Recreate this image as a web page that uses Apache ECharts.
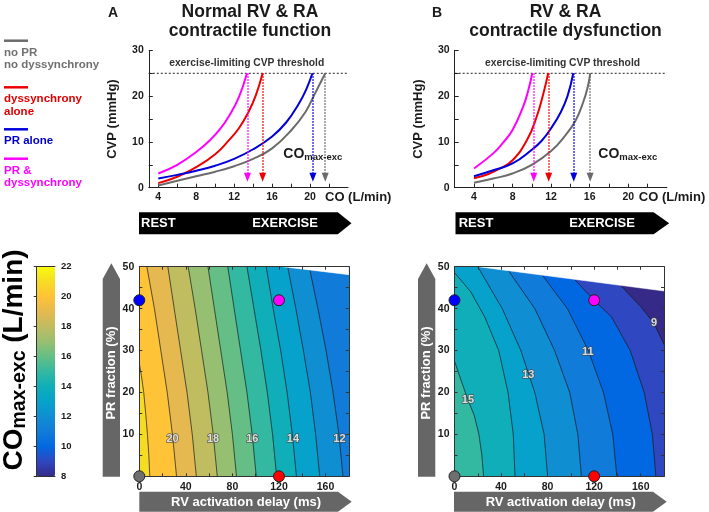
<!DOCTYPE html>
<html><head><meta charset="utf-8">
<script src="https://cdn.jsdelivr.net/npm/echarts@6/dist/echarts.min.js"></script>
<style>html,body{margin:0;padding:0;background:#fff}#c{width:709px;height:512px}</style>
</head><body><div id="c"></div>
<script>
// ================= DATA =================
// top panels: CO (L/min) vs CVP (mmHg)
const coLabelTicks = [4, 8, 12, 16, 20];
const coTicks = [4, 6, 8, 10, 12, 14, 16, 18, 20, 22];
const cvpLabelTicks = [0, 10, 20, 30];
const cvpTicks = [0, 5, 10, 15, 20, 25, 30];
const cvpThreshold = 25;

const aGray    = [[4,0.5],[6,1.5],[8,2.5],[10,3.5],[12,4.7],[14,6.3],[16,8.6],[18,12.5],[19.5,16.5],[20.5,20.5],[21.6,25]];
const aRed     = [[4,1],[6,2.4],[8,4.5],[10,7.3],[11.5,10.5],[12.5,13],[13.5,16.5],[14.3,20.3],[15,25]];
const aBlue    = [[4,2],[6,2.8],[8,3.7],[10,4.8],[12,6.3],[14,8.4],[16,11.2],[17.5,14.3],[18.8,18.3],[19.6,21.5],[20.25,25]];
const aMagenta = [[4,3.1],[6,5],[8,7.8],[9.5,10.5],[10.5,12.8],[11.5,15.8],[12.5,19.8],[13.35,25]];
const aCOmax   = {gray: 21.6, red: 15.0, blue: 20.3, magenta: 13.4};

const bGray    = [[4,1.1],[6,2],[8,3.1],[10,5],[12,8],[13.5,11.5],[14.5,14.5],[15.3,18.5],[15.8,22],[16.05,25]];
const bRed     = [[4,2.05],[5.5,3],[6.7,4.2],[8,6],[9.5,10.4],[10.5,15.5],[11.2,20.6],[11.7,25]];
const bBlue    = [[4,2.5],[6,3.8],[8,5.3],[10,8.3],[11,10.2],[12,13],[13,16.5],[13.7,20],[14.3,25]];
const bMagenta = [[4,4.2],[6,7.5],[7,9.8],[8,12.6],[9.1,17.7],[9.6,21],[10.05,25]];
const bCOmax   = {gray: 16.05, red: 11.75, blue: 14.35, magenta: 10.2};

// bottom panels: RV activation delay (ms) vs PR fraction (%), COmax-exc contours
const delayLabelTicks = [0, 40, 80, 120, 160];
const delayTicks = [0, 20, 40, 60, 80, 100, 120, 140, 160, 180];
const prLabelTicks = [10, 20, 30, 40, 50];
const prTicks = [0, 5, 10, 15, 20, 25, 30, 35, 40, 45, 50];
const cbarTicks = [8, 10, 12, 14, 16, 18, 20, 22];

const levelsA = [21, 20, 19, 18, 17, 16, 15, 14, 13, 12];
const contourA = [
  [[9,0],[8.2,5],[7,10],[5.5,15],[3.8,20],[1.8,24],[0,27]],
  [[32,0],[28.5,10],[24,20],[18.5,30],[13,40],[6.5,50]],
  [[49,0],[45.5,10],[41,20],[35.5,30],[30,40],[24.5,50]],
  [[67,0],[63.5,10],[59,20],[53.5,30],[48,40],[42,50]],
  [[83.5,0],[80,10],[75.5,20],[70,30],[64.5,40],[59,50]],
  [[100.5,0],[97,10],[92.5,20],[87,30],[81.5,40],[76,50]],
  [[118,0],[114.5,10],[110,20],[104.5,30],[98.5,40],[92.5,50]],
  [[135,0],[131.5,10],[127,20],[121.5,30],[115,40],[109,50]],
  [[155,0],[151.5,10],[147,20],[141,30],[134.5,40],[127.5,50]],
  [[175,0],[171.5,10],[166.5,20],[160.5,30],[153.5,40],[146,50]]
];
const contourLabelsA = [[28.6,8.8,'20'],[63.4,8.8,'18'],[97.1,8.8,'16'],[132,8.8,'14'],[172,8.8,'12']];
const nanEdgeA = [[123,50],[180,48.1]];

const levelsB = [15, 14, 13, 12, 11, 10, 9];
const contourB = [
  [[25,0],[23.5,5],[21,10],[17,14.5],[11.5,18.3],[5.5,23],[0,27.5]],
  [[52,0],[50.5,10],[46,20],[38,30],[26,38],[14,44],[0,48.6]],
  [[80,0],[77,10],[69,20],[57,30],[41,40],[20,50]],
  [[109,0],[106,10],[99,20],[86,30],[69,40],[44,50]],
  [[139.5,0],[136,10],[128,20],[115,30],[97,40],[70,50]],
  [[173,0],[170,10],[163,20],[151,30],[135,38],[120,42],[103,47],[94,50]],
  [[180,31.5],[171.4,36.5],[160,40.5],[148,44],[138,47],[130,50]]
];
const contourLabelsB = [[11.5,18.3,'15'],[63.4,24.2,'13'],[114.6,29.7,'11'],[171.4,36.5,'9']];
const nanEdgeB = [[20,50],[180,44.2]];

// scenario markers: no PR/no dyssynchrony, dyssynchrony alone, PR alone, PR & dyssynchrony
const scenarioPoints = [[0,0],[120,0],[0,42],[120,42]];

// ================= STYLE =================
const FONT = "'Liberation Sans', Arial, Helvetica, sans-serif";
const C = {gray:'#6b6b6b', red:'#ee0000', blue:'#0000dd', magenta:'#ff00ff'};
const scenarioColors = ['#6e6e6e', '#ff0000', '#0000ff', '#ff00ff'];
const parula = ['#352a87','#2f47c0','#0268e1','#117bd9','#108ed2','#06a2cb','#0faeb9','#33b8a1','#65be86','#97bf71','#c0bc60','#e5b950','#ffc337','#f6db23','#f9fb0e'];
const AX = '#222';
const lbl = {color:'#1a1a1a', fontWeight:'bold', fontSize:10.5, fontFamily:FONT};

const extent = {x0:0, x1:180, y0:0, y1:50};

// ================= HELPERS =================
function coAxis(gridIndex, min, nameGap) {
  return {type:'value', gridIndex, min, max:24,
    axisLine:{show:true, onZero:false, lineStyle:{color:AX, width:1}},
    axisTick:{show:true, inside:true, length:4, customValues:coTicks, lineStyle:{color:AX}},
    axisLabel:Object.assign({customValues:coLabelTicks, margin:4}, lbl),
    splitLine:{show:false},
    name:'CO (L/min)', nameLocation:'end', nameGap,
    nameTextStyle:{fontSize:13, fontWeight:'bold', color:'#1a1a1a', fontFamily:FONT, align:'left', verticalAlign:'top', padding:[3,0,0,0]}};
}
function cvpAxis(gridIndex) {
  return {type:'value', gridIndex, min:0, max:30,
    axisLine:{show:true, onZero:false, lineStyle:{color:AX, width:1}},
    axisTick:{show:true, inside:true, length:4, customValues:cvpTicks, lineStyle:{color:AX}},
    axisLabel:Object.assign({customValues:cvpLabelTicks, margin:5}, lbl),
    splitLine:{show:false},
    name:'CVP (mmHg)', nameLocation:'middle', nameGap:30,
    nameTextStyle:{fontSize:13, fontWeight:'bold', color:'#1a1a1a', fontFamily:FONT}};
}
function frameX(gridIndex, position, showLabel) {
  return {type:'value', gridIndex, position, min:0, max:180, z:10,
    axisLine:{show:true, onZero:false, lineStyle:{color:'#333', width:1}},
    axisTick:{show:true, inside:true, length:3, customValues:delayTicks, lineStyle:{color:'#333'}},
    axisLabel:Object.assign({show:showLabel, customValues:delayLabelTicks, margin:5}, lbl),
    splitLine:{show:false}};
}
function frameY(gridIndex, position, showLabel) {
  return {type:'value', gridIndex, position, min:0, max:50, z:10,
    axisLine:{show:true, onZero:false, lineStyle:{color:'#333', width:1}},
    axisTick:{show:true, inside:true, length:3, customValues:prTicks, lineStyle:{color:'#333'}},
    axisLabel:Object.assign({show:showLabel, customValues:prLabelTicks, margin:5}, lbl),
    splitLine:{show:false}};
}
function curve(data, color, xi, yi, coMax) {
  return {type:'line', data, xAxisIndex:xi, yAxisIndex:yi, smooth:0.45,
    symbol:'none', lineStyle:{color, width:2}, itemStyle:{color}, z:3, clip:false,
    markLine:{silent:true, symbol:['none','triangle'], symbolSize:[7,9], label:{show:false},
      lineStyle:{color, type:'dotted', width:1.5}, emphasis:{disabled:true},
      data:[[{coord:[coMax, cvpThreshold]},{coord:[coMax, 2.3]}]]}};
}
function threshold(xmin, xi, yi) {
  return {type:'line', data:[[xmin, cvpThreshold],[24, cvpThreshold]], xAxisIndex:xi, yAxisIndex:yi,
    symbol:'none', lineStyle:{color:'#222', width:1, type:[2,2]}, z:2, clip:false};
}
function regionRight(line) {
  const pts = line.slice();
  const first = line[0], last = line[line.length-1];
  if (last[0] <= extent.x0 && last[1] < extent.y1) pts.push([extent.x0, extent.y1]);
  pts.push([extent.x1, extent.y1]);
  if (first[1] <= extent.y0) pts.push([extent.x1, extent.y0]);
  return pts;
}
function bandSeries(lines, levels, xi, yi) {
  const data = [[levels[0], -1]].concat(levels.map((L, i) => [L - 1, i]));
  return {type:'custom', xAxisIndex:xi, yAxisIndex:yi, data, z:1, clip:true, silent:true,
    renderItem(params, api) {
      const li = api.value(1);
      const pts = li < 0
        ? [[extent.x0,extent.y0],[extent.x0,extent.y1],[extent.x1,extent.y1],[extent.x1,extent.y0]]
        : regionRight(lines[li]);
      const col = api.visual('color');
      return {type:'polygon', shape:{points:pts.map(p => api.coord(p))}, style:{fill:col, stroke:col, lineWidth:0.6}};
    }};
}
function lineSeries(lines, xi, yi) {
  return {type:'custom', xAxisIndex:xi, yAxisIndex:yi, data:lines.map((l, i) => [i]), z:2, clip:true, silent:true,
    renderItem(params, api) {
      return {type:'polyline', shape:{points:lines[api.value(0)].map(p => api.coord(p))}, style:{stroke:'#1c1c1c', lineWidth:0.7, fill:null}};
    }};
}
function nanSeries(edge, xi, yi) {
  return {type:'custom', xAxisIndex:xi, yAxisIndex:yi, data:[[0]], z:3, clip:true, silent:true,
    renderItem(params, api) {
      const pts = edge.concat([[extent.x1, extent.y1 + 1], [edge[0][0] - 2, extent.y1 + 1]]);
      return {type:'polygon', shape:{points:pts.map(p => api.coord(p))}, style:{fill:'#fff', stroke:'#fff', lineWidth:0.5}};
    }};
}
function labelSeries(labels, xi, yi) {
  return {type:'scatter', xAxisIndex:xi, yAxisIndex:yi, data:labels, symbolSize:1, itemStyle:{color:'rgba(0,0,0,0)'}, z:6, silent:true,
    label:{show:true, position:'inside', formatter:p => p.value[2], color:'#ffffff', fontWeight:'bold', fontSize:11, fontFamily:FONT, textBorderColor:'#444', textBorderWidth:1.4}};
}
function dotSeries(xi, yi) {
  return {type:'scatter', xAxisIndex:xi, yAxisIndex:yi, clip:false, z:20, symbolSize:11, silent:true,
    data:scenarioPoints.map((p, i) => ({value:p, itemStyle:{color:scenarioColors[i], borderColor:'#222', borderWidth:1, opacity:1}}))};
}

// ================= OPTION =================
const series = [
  curve(aGray, C.gray, 0, 0, aCOmax.gray),
  curve(aRed, C.red, 0, 0, aCOmax.red),
  curve(aBlue, C.blue, 0, 0, aCOmax.blue),
  curve(aMagenta, C.magenta, 0, 0, aCOmax.magenta),
  threshold(3, 0, 0),
  curve(bGray, C.gray, 1, 1, bCOmax.gray),
  curve(bRed, C.red, 1, 1, bCOmax.red),
  curve(bBlue, C.blue, 1, 1, bCOmax.blue),
  curve(bMagenta, C.magenta, 1, 1, bCOmax.magenta),
  threshold(2, 1, 1),
  bandSeries(contourA, levelsA, 2, 2),   // index 10
  bandSeries(contourB, levelsB, 4, 4),   // index 11
  lineSeries(contourA, 2, 2),
  lineSeries(contourB, 4, 4),
  nanSeries(nanEdgeA, 2, 2),
  nanSeries(nanEdgeB, 4, 4),
  labelSeries(contourLabelsA, 2, 2),
  labelSeries(contourLabelsB, 4, 4),
  dotSeries(2, 2),
  dotSeries(4, 4)
];

const T = (x, y, text, o) => ({type:'text', x, y, z:50, silent:true,
  style:Object.assign({text, fontFamily:FONT, fontWeight:'bold', fontSize:13, fill:'#1a1a1a', align:'center', verticalAlign:'middle'}, o || {})});
const P = (points, fill) => ({type:'polygon', z:40, silent:true, shape:{points}, style:{fill}});
const L = (x1, y1, x2, y2, stroke) => ({type:'line', z:40, silent:true, shape:{x1, y1, x2, y2}, style:{stroke, lineWidth:2.5}});

const coSubRich = {
  co:{fontSize:14, fontWeight:'bold', fontFamily:FONT, fill:'#1a1a1a', lineHeight:15, verticalAlign:'top', padding:[0,0,4,0]},
  sub:{fontSize:9.5, fontWeight:'bold', fontFamily:FONT, fill:'#1a1a1a', lineHeight:10, verticalAlign:'bottom'}
};
const bigRich = {
  co:{fontSize:28, fontWeight:'bold', fontFamily:FONT, fill:'#000', lineHeight:30, verticalAlign:'top', padding:[0,0,4,0]},
  sub:{fontSize:19.5, fontWeight:'bold', fontFamily:FONT, fill:'#000', lineHeight:20, verticalAlign:'bottom'}
};

const graphic = [
  // panel letters & titles
  T(113, 13, 'A', {fontSize:14}),
  T(250, 21.5, 'Normal RV & RA\ncontractile function', {fontSize:17.5, lineHeight:19}),
  T(437, 13, 'B', {fontSize:14}),
  T(565.5, 21.5, 'RV & RA\ncontractile dysfunction', {fontSize:17.5, lineHeight:19}),
  // legend
  L(4, 40.7, 28, 40.7, C.gray),
  T(4, 58.9, 'no PR\nno dyssynchrony', {fontSize:11.5, lineHeight:12.3, align:'left', fill:'#707070'}),
  L(4, 87.3, 28, 87.3, C.red),
  T(4, 105.2, 'dyssynchrony\nalone', {fontSize:11.5, lineHeight:12.3, align:'left', fill:'#e00000'}),
  L(4, 129.3, 28, 129.3, C.blue),
  T(4, 140.7, 'PR alone', {fontSize:11.5, align:'left', fill:'#0000cc'}),
  L(4, 158.7, 28, 158.7, C.magenta),
  T(4, 177, 'PR &\ndyssynchrony', {fontSize:11.5, lineHeight:12.3, align:'left', fill:'#ff00ff'}),
  // annotations in top panels
  T(246.7, 63.3, 'exercise-limiting CVP threshold', {fontSize:10.3, fill:'#333'}),
  T(562.5, 63.3, 'exercise-limiting CVP threshold', {fontSize:10.3, fill:'#333'}),
  T(283.3, 147.5, '{co|CO}{sub|max-exc}', {align:'left', verticalAlign:'top', rich:coSubRich}),
  T(598.3, 147.5, '{co|CO}{sub|max-exc}', {align:'left', verticalAlign:'top', rich:coSubRich}),
  // REST / EXERCISE arrows
  P([[139,212.3],[337.8,212.3],[351.5,223.3],[337.8,234.3],[139,234.3]], '#000'),
  T(141, 223.5, 'REST', {align:'left', fill:'#fff'}),
  T(285, 223.5, 'EXERCISE', {fill:'#fff'}),
  P([[455.5,212.3],[653.6,212.3],[669.2,223.3],[653.6,234.3],[455.5,234.3]], '#000'),
  T(458.7, 223.5, 'REST', {align:'left', fill:'#fff'}),
  T(602, 223.5, 'EXERCISE', {fill:'#fff'}),
  // gray axis arrows
  P([[102.7,476.7],[120,476.7],[120,279],[111.35,263.3],[102.7,279]], '#666'),
  Object.assign(T(111.5, 373, 'PR fraction (%)', {fill:'#fff'}), {rotation:Math.PI/2}),
  P([[418,476.7],[435.3,476.7],[435.3,279],[426.65,263.3],[418,279]], '#666'),
  Object.assign(T(426.8, 373, 'PR fraction (%)', {fill:'#fff'}), {rotation:Math.PI/2}),
  P([[139.3,491.7],[338,491.7],[351.7,501.7],[338,511.7],[139.3,511.7]], '#666'),
  T(246, 502, 'RV activation delay (ms)', {fill:'#fff'}),
  P([[454,491.7],[653,491.7],[666.7,501.7],[653,511.7],[454,511.7]], '#666'),
  T(560.7, 502, 'RV activation delay (ms)', {fill:'#fff'}),
  // colorbar title
  Object.assign(T(15, 360, '{co|CO}{sub|max-exc}{co| (L/min)}', {rich:bigRich}), {rotation:Math.PI/2})
];

const option = {
  animation:false,
  backgroundColor:'#fff',
  textStyle:{fontFamily:FONT},
  grid:[
    {left:148.8, top:50.4, width:199.2, height:137.3},
    {left:454.7, top:50.4, width:212.1, height:137.3},
    {left:139.3, top:266.7, width:209.5, height:209.6},
    {left:454.5, top:266.7, width:209.5, height:209.6},
    {left:36.7, top:266.7, width:18.3, height:210}
  ],
  xAxis:[
    coAxis(0, 3, -23),
    coAxis(1, 2, -28),
    frameX(2, 'bottom', true),
    frameX(2, 'top', false),
    frameX(3, 'bottom', true),
    frameX(3, 'top', false),
    {type:'value', gridIndex:4, min:0, max:1, position:'bottom', z:10, axisLine:{show:true, lineStyle:{color:'#333'}}, axisTick:{show:false}, axisLabel:{show:false}, splitLine:{show:false}},
    {type:'value', gridIndex:4, min:0, max:1, position:'top', z:10, axisLine:{show:true, lineStyle:{color:'#333'}}, axisTick:{show:false}, axisLabel:{show:false}, splitLine:{show:false}}
  ],
  yAxis:[
    cvpAxis(0),
    cvpAxis(1),
    frameY(2, 'left', true),
    frameY(2, 'right', false),
    frameY(3, 'left', true),
    frameY(3, 'right', false),
    {type:'value', gridIndex:4, min:8, max:22, position:'left', z:10, axisLine:{show:true, lineStyle:{color:'#333'}}, axisTick:{show:false}, axisLabel:{show:false}, splitLine:{show:false}},
    {type:'value', gridIndex:4, min:8, max:22, position:'right', z:10, axisLine:{show:true, lineStyle:{color:'#333'}},
      axisTick:{show:true, inside:true, length:3, customValues:cbarTicks, lineStyle:{color:'#333'}},
      axisLabel:Object.assign({customValues:cbarTicks, margin:6}, lbl, {fontSize:9.5}), splitLine:{show:false}}
  ],
  visualMap:{type:'continuous', min:8, max:22, dimension:0, seriesIndex:[10, 11],
    inRange:{color:parula}, calculable:false, hoverLink:false, text:null, showLabel:false,
    orient:'vertical', left:36.7, top:266.7, itemWidth:18.3, itemHeight:210, padding:0, z:4},
  graphic,
  series
};

const chart = echarts.init(document.getElementById('c'));
chart.setOption(option);
</script>
</body></html>
